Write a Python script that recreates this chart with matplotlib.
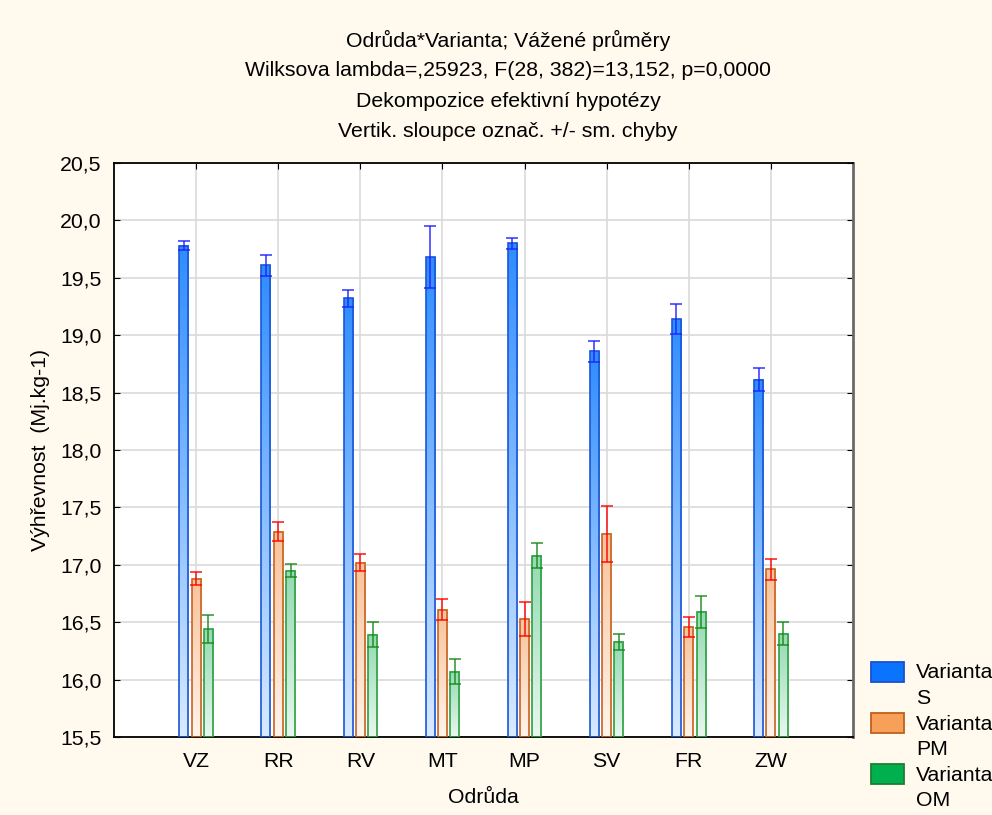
import numpy as np
import matplotlib
matplotlib.use('Agg')
import matplotlib.pyplot as plt
from matplotlib.patches import Rectangle
from matplotlib.ticker import FuncFormatter
from matplotlib.colors import to_rgb

plt.rcParams['font.family'] = ['Liberation Sans', 'DejaVu Sans']

# odrůdy a průměry +/- sm. chyby
odrudy = ['VZ', 'RR', 'RV', 'MT', 'MP', 'SV', 'FR', 'ZW']
varianty = ['S', 'PM', 'OM']

prumer_s = [19.78, 19.61, 19.32, 19.68, 19.80, 18.86, 19.14, 18.61]
chyba_s = [0.04, 0.09, 0.07, 0.27, 0.045, 0.09, 0.13, 0.10]
prumer_pm = [16.88, 17.29, 17.02, 16.61, 16.53, 17.27, 16.46, 16.96]
chyba_pm = [0.06, 0.08, 0.07, 0.09, 0.15, 0.245, 0.085, 0.09]
prumer_om = [16.44, 16.95, 16.39, 16.07, 17.08, 16.33, 16.59, 16.40]
chyba_om = [0.125, 0.06, 0.11, 0.11, 0.11, 0.07, 0.14, 0.10]

serie = [
    (prumer_s, chyba_s, '#2f8dff', '#d8eaff', '#1a56d6', '#2020ff', '#0a74ff', '#1d4fd0'),
    (prumer_pm, chyba_pm, '#f8c29a', '#fff4ec', '#c8621e', '#ff0000', '#f7a05a', '#c0601c'),
    (prumer_om, chyba_om, '#93dab2', '#e8f7ef', '#2e9e40', '#1a8a1a', '#00b04f', '#1e7f2e'),
]
posun = [-0.15, 0.0, 0.15]
sirka = 0.11
dno = 15.5
fs = 15.3

W, H = 992, 815
fig = plt.figure(figsize=(W / 100, H / 100), dpi=100, facecolor='#fff9ee')
ax = fig.add_axes([114 / W, 1 - 737 / H, 739 / W, 574 / H])
ax.set_facecolor('white')

x = np.arange(1, len(odrudy) + 1)
for (prumer, chyba, c_top, c_bot, c_edge, c_err, c_leg, c_legedge), dx in zip(serie, posun):
    top = np.array(to_rgb(c_top))
    bot = np.array(to_rgb(c_bot))
    # sloupec s přechodem barvy shora dolů
    for xi, v in zip(x + dx, prumer):
        t = np.linspace(0, 1, 64)[:, None]
        grad = (top * (1 - t) + bot * t)[:, None, :]
        ax.imshow(grad, extent=(xi - sirka / 2, xi + sirka / 2, dno, v),
                  aspect='auto', zorder=2, interpolation='bilinear')
    ax.bar(x + dx, np.array(prumer) - dno, bottom=dno, width=sirka,
           facecolor='none', edgecolor=c_edge, linewidth=1.2, zorder=3)
    ax.errorbar(x + dx, prumer, yerr=chyba, fmt='none', ecolor=c_err,
                elinewidth=1.2, capsize=4.5, capthick=1.2, zorder=4, alpha=0.85)

ax.set_xlim(0, 9)
ax.set_ylim(15.5, 20.5)
ax.set_xticks(x)
ax.set_xticklabels(odrudy)
ax.set_yticks(np.arange(15.5, 20.51, 0.5))
ax.yaxis.set_major_formatter(FuncFormatter(lambda v, p: f'{v:.1f}'.replace('.', ',')))
ax.grid(True, color='#dadada', linewidth=1.2, zorder=0)
ax.set_axisbelow(True)
ax.tick_params(direction='in', length=4, labelsize=fs, color='black',
               top=True, right=True)
ax.tick_params(axis='y', pad=9)
ax.tick_params(axis='x', pad=11)
for s in ['left', 'bottom', 'top']:
    ax.spines[s].set_color('black')
    ax.spines[s].set_linewidth(1.3)
ax.spines['right'].set_color('#6a6a6a')
ax.spines['right'].set_linewidth(2)

ax.set_xlabel('Odrůda', fontsize=fs, labelpad=12)
ax.set_ylabel('Výhřevnost  (Mj.kg-1)', fontsize=fs, labelpad=7)

nadpis = ['Odrůda*Varianta; Vážené průměry',
          'Wilksova lambda=,25923, F(28, 382)=13,152, p=0,0000',
          'Dekompozice efektivní hypotézy',
          'Vertik. sloupce označ. +/- sm. chyby']
for i, radek in enumerate(nadpis):
    fig.text(508 / W, 1 - (40 + 30.6 * i) / H, radek, fontsize=fs,
             ha='center', va='center')

# legenda vpravo dole
for i, (jmeno, s) in enumerate(zip(varianty, serie)):
    y0 = 662 + 51.2 * i
    fig.add_artist(Rectangle((871 / W, 1 - (y0 + 20) / H), 33 / W, 20 / H,
                             transform=fig.transFigure, facecolor=s[6],
                             edgecolor=s[7], linewidth=1.3))
    fig.text(916 / W, 1 - (y0 + 11) / H, 'Varianta', fontsize=fs, va='center')
    fig.text(916 / W, 1 - (y0 + 36.5) / H, jmeno, fontsize=fs, va='center')

fig.savefig('out.png', dpi=100, facecolor=fig.get_facecolor())
